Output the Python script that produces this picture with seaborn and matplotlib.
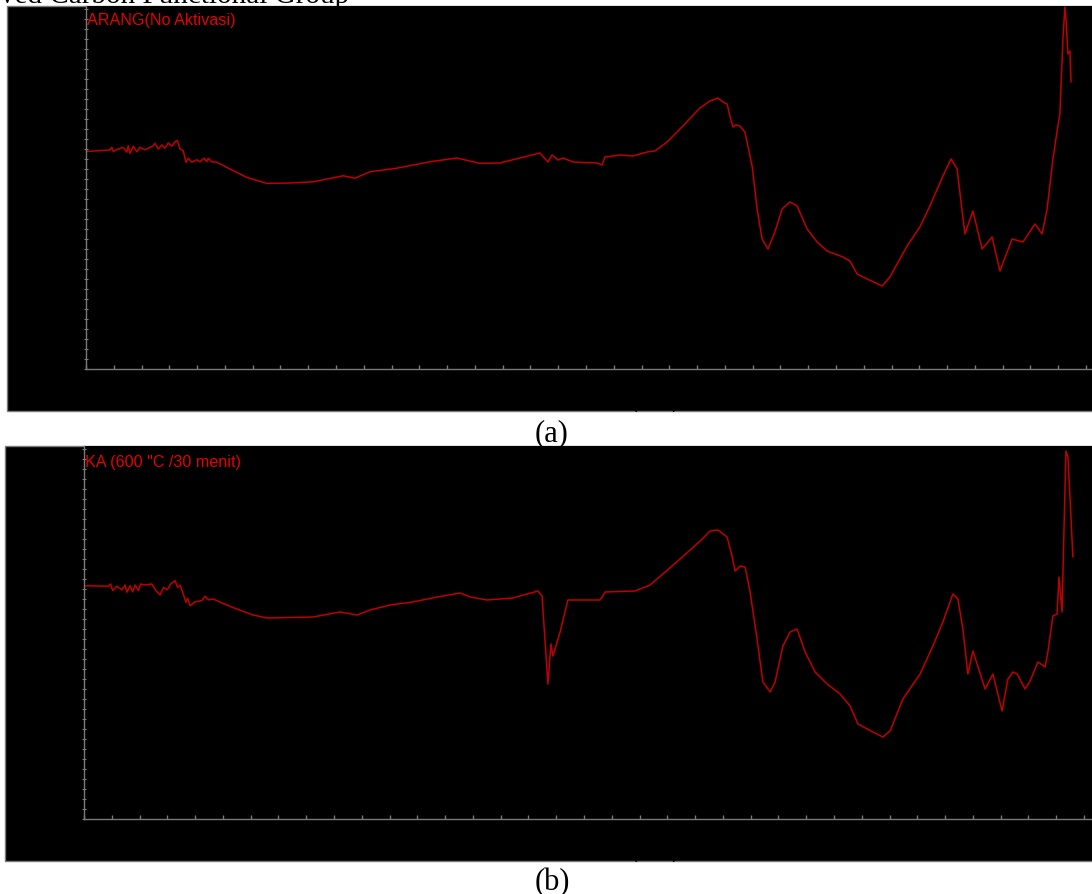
import matplotlib
matplotlib.use("Agg")
import matplotlib.pyplot as plt
from matplotlib.patches import Rectangle
from matplotlib.ticker import MultipleLocator, NullFormatter
import seaborn as sns
import pandas as pd

# ---------------- data (wavenumber cm-1, transmittance a.u.) ----------------
wn_a = [3998, 3914, 3907, 3902, 3885, 3866, 3853, 3848, 3842, 3830, 3817, 3806,
        3788, 3770, 3758, 3752, 3740, 3727, 3716, 3704, 3691, 3680, 3671, 3662,
        3650, 3640, 3632, 3619, 3601, 3590, 3575, 3565, 3560, 3547, 3529, 3482,
        3421, 3349, 3266, 3182, 3074, 3032, 2978, 2881, 2762, 2665, 2582, 2510,
        2366, 2337, 2322, 2301, 2283, 2247, 2160, 2142, 2132, 2103, 2078, 2031,
        1980, 1952, 1908, 1851, 1790, 1754, 1725, 1707, 1692, 1682, 1671, 1660,
        1646, 1628, 1602, 1584, 1566, 1545, 1520, 1494, 1466, 1440, 1404, 1368,
        1332, 1275, 1250, 1224, 1188, 1134, 1106, 1044, 998, 962, 915, 886,
        864, 836, 807, 774, 738, 710, 666, 627, 584, 558, 540, 519, 504, 494,
        483, 476, 472, 465, 458, 454]
t_a = [54.4, 54.75, 55.4, 54.4, 55.0, 55.4, 54.2, 55.8, 53.9, 55.7, 54.3, 55.4,
       54.8, 55.4, 55.8, 56.4, 55.0, 56.0, 55.2, 56.5, 55.7, 56.8, 57.1, 55.0,
       54.6, 51.7, 52.7, 51.7, 52.3, 51.8, 52.7, 51.8, 52.7, 51.8, 51.7, 50.0,
       47.9, 46.4, 46.5, 46.8, 48.3, 47.7, 49.3, 50.2, 51.8, 52.75, 51.4, 51.5,
       54.0, 51.75, 53.5, 52.25, 52.75, 51.75, 51.5, 51.0, 53.0, 53.25, 53.5, 53.25,
       54.25, 54.5, 56.75, 60.75, 65.25, 67.0, 67.75, 66.75, 66.25, 63.25, 60.5, 61.0,
       60.75, 59.25, 50.75, 40.0, 32.5, 30.0, 34.25, 40.0, 41.75, 40.75, 35.0, 31.75,
       29.5, 28.0, 27.0, 23.75, 22.5, 20.75, 23.0, 30.75, 35.5, 40.75, 48.25, 52.5,
       50.0, 33.75, 39.5, 30.0, 33.0, 24.5, 32.5, 31.75, 36.25, 33.75, 40.0, 52.5, 59.5, 63.75,
       82.5, 90.5, 87.5, 78.75, 79.5, 71.75]

wn_b = [3996, 3912, 3904, 3897, 3882, 3864, 3852, 3846, 3834, 3825, 3816, 3804,
        3796, 3780, 3756, 3741, 3726, 3714, 3700, 3688, 3672, 3663, 3654, 3645,
        3633, 3627, 3618, 3600, 3576, 3564, 3552, 3534, 3510, 3450, 3392, 3341,
        3176, 3078, 3017, 2970, 2898, 2816, 2729, 2646, 2610, 2549, 2456, 2366,
        2351, 2340, 2330, 2319, 2312, 2286, 2258, 2214, 2142, 2124, 2016, 1962,
        1854, 1782, 1746, 1718, 1685, 1667, 1656, 1638, 1620, 1602, 1577, 1556,
        1530, 1512, 1484, 1458, 1433, 1404, 1368, 1325, 1278, 1242, 1214, 1160,
        1124, 1098, 1052, 990, 944, 908, 872, 854, 836, 818, 800, 756, 728, 695,
        674, 656, 641, 612, 594, 566, 540, 530, 512, 497, 490, 479, 472, 465, 458,
        450, 440]
t_b = [58.3, 58.2, 58.75, 57.1, 58.2, 57.3, 58.5, 56.7, 58.3, 56.8, 58.5, 57.1,
       58.75, 58.5, 58.75, 57.1, 56.0, 57.9, 57.3, 58.75, 59.6, 57.9, 58.5, 56.7,
       54.2, 55.2, 53.3, 54.3, 54.6, 55.7, 54.8, 55.0, 54.2, 52.5, 51.0, 50.25,
       50.5, 51.75, 51.0, 52.25, 53.5, 54.25, 55.5, 56.5, 55.5, 54.75, 55.25, 57.0,
       55.75, 44.25, 33.75, 43.75, 40.75, 46.75, 54.75, 54.75, 54.75, 56.75, 57.0, 58.5,
       65.0, 69.5, 72.0, 72.25, 70.5, 65.75, 62.0, 63.25, 63.0, 56.75, 45.0, 34.25,
       31.75, 34.25, 43.25, 46.75, 47.5, 41.75, 36.75, 33.75, 31.25, 28.25, 23.75, 21.75,
       20.5, 22.0, 30.0, 36.25, 43.25, 49.25, 56.25, 55.0, 47.5, 36.25, 42.0, 32.5, 36.25, 27.0,
       35.0, 36.75, 36.25, 32.5, 34.5, 39.25, 38.0, 41.75, 50.75, 51.25, 60.5, 51.75, 72.5, 92.0, 90.5,
       80.0, 65.5]

labels = ["ARANG(No Aktivasi)", 'KA (600 "C /30 menit)']
panel_tags = ["(a)", "(b)"]
title_text = "ved Carbon Functional Group"
xunit = "(1/cm)"

# ---------------- style ----------------
sns.set_theme(style="ticks")
plt.rcParams["font.family"] = ["Liberation Sans", "DejaVu Sans"]

W, H = 1092, 895
fig = plt.figure(figsize=(W / 100, H / 100), dpi=100)
fig.patch.set_facecolor("white")

def fx(px):
    return px / W

def fy(py):
    return 1 - py / H

# panel geometry (pixels): (rect_left, rect_top, rect_bottom, axes_left, axes_top, axes_bottom)
panels = [(7, 7, 412, 86, 7, 370), (5, 447, 862, 84, 447, 820)]
ylims = [(0, 90.75), (0, 93.25)]
xright = [4000 - 3.6 * (W - 86), 4000 - 3.6 * (W - 84)]
data = [(wn_a, t_a), (wn_b, t_b)]
grey = "#7a7a7a"
line_red = "#c00000"
text_red = "#e60000"

for i, (rl, rt, rb, al, at, ab) in enumerate(panels):
    rect = Rectangle((fx(rl), fy(rb)), 1.05 - fx(rl), fy(rt) - fy(rb),
                     transform=fig.transFigure, facecolor="black",
                     edgecolor=grey, linewidth=1.0, zorder=-5, clip_on=False)
    fig.add_artist(rect)
    ax = fig.add_axes([fx(al), fy(ab), 1 - fx(al), fy(at) - fy(ab)])
    ax.set_facecolor("black")
    df = pd.DataFrame({"wn": data[i][0], "T": data[i][1]})
    sns.lineplot(data=df, x="wn", y="T", ax=ax, color=line_red, linewidth=1.1,
                 estimator=None, sort=False)
    ax.set_xlim(4000, xright[i])
    ax.set_ylim(*ylims[i])
    ax.set_xlabel("")
    ax.set_ylabel("")
    for s in ["top", "right"]:
        ax.spines[s].set_visible(False)
    for s in ["left", "bottom"]:
        ax.spines[s].set_color(grey)
        ax.spines[s].set_linewidth(1.0)
    ax.xaxis.set_major_locator(MultipleLocator(100))
    ax.yaxis.set_major_locator(MultipleLocator(2.5))
    ax.xaxis.set_major_formatter(NullFormatter())
    ax.yaxis.set_major_formatter(NullFormatter())
    ax.tick_params(axis="x", direction="in", length=3, width=1, color=grey)
    ax.tick_params(axis="y", direction="inout", length=3, width=0.8, color=grey)
    ax.annotate(labels[i], xy=(0, 1), xycoords="axes fraction",
                xytext=(1, -18 if i == 0 else -20), textcoords="offset pixels",
                va="baseline", ha="left", color=text_red, fontsize=11.6)
    # hidden axis unit label (black, only its tips show below the panel)
    fig.text(fx(655), fy(rb - 2.5), xunit, color="black", fontsize=11.6,
             ha="center", va="baseline", zorder=10)

serif = ["Liberation Serif", "DejaVu Serif"]
fig.text(fx(552), fy(441), panel_tags[0], family=serif, fontsize=22,
         ha="center", va="baseline", color="black")
fig.text(fx(552), fy(890), panel_tags[1], family=serif, fontsize=22,
         ha="center", va="baseline", color="black")
fig.text(fx(0), fy(3), title_text, family=serif, fontsize=21,
         ha="left", va="baseline", color="black")

fig.savefig("out.png", dpi=100, facecolor="white")
